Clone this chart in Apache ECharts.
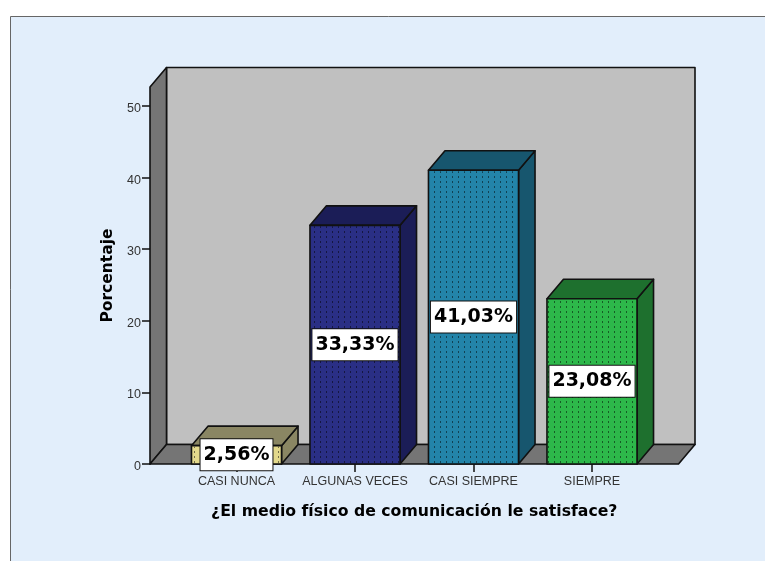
<!DOCTYPE html>
<html>
<head>
<meta charset="utf-8">
<style>html,body{margin:0;padding:0;background:#fff}#c{width:765px;height:561px}</style>
<script src="https://cdn.jsdelivr.net/npm/echarts@6/dist/echarts.min.js"></script>
</head>
<body>
<div id="c"></div>
<script>
const categories = ['CASI NUNCA', 'ALGUNAS VECES', 'CASI SIEMPRE', 'SIEMPRE'];
const values = [2.56, 33.33, 41.03, 23.08];
const valueLabels = ['2,56%', '33,33%', '41,03%', '23,08%'];
const yTicks = [0, 10, 20, 30, 40, 50];
const yMax = 52.65;
const frontColors = ['#E3D98C', '#2A2F85', '#2384A9', '#2DB84A'];
const sideColors = ['#8A8663', '#1B1D57', '#17566E', '#1E702E'];
const xAxisTitle = '¿El medio físico de comunicación le satisface?';
const yAxisTitle = 'Porcentaje';

const depthX = 16.5, depthY = -19.5, barShare = 0.76, wallPad = 27.25;
const edge = { stroke: '#111', lineWidth: 1.6, lineJoin: 'round' };

function dotted() {
  const cv = document.createElement('canvas');
  cv.width = 6; cv.height = 5;
  const g = cv.getContext('2d');
  g.fillStyle = 'rgba(0,0,0,0.5)';
  g.fillRect(2, 1, 1, 2);
  return cv;
}
const dots = dotted();

function poly(points, fill) {
  return { type: 'polygon', shape: { points }, style: Object.assign({ fill }, edge) };
}

function renderWalls(params, api) {
  const cs = params.coordSys;
  const y0 = api.coord([0, 0])[1];
  const yT = api.coord([0, yMax])[1];
  const l = cs.x - wallPad, r = cs.x + cs.width + wallPad;
  return {
    type: 'group',
    children: [
      poly([[l + depthX, yT + depthY], [r + depthX, yT + depthY], [r + depthX, y0 + depthY], [l + depthX, y0 + depthY]], '#C0C0C0'),
      poly([[l, yT], [l + depthX, yT + depthY], [l + depthX, y0 + depthY], [l, y0]], '#757575'),
      poly([[l, y0], [l + depthX, y0 + depthY], [r + depthX, y0 + depthY], [r, y0]], '#757575')
    ]
  };
}

function renderBar(params, api) {
  const i = api.value(0), v = api.value(1);
  const base = api.coord([i, 0]), top = api.coord([i, v]);
  const w = api.size([1, 0])[0] * barShare;
  const l = base[0] - w / 2, r = base[0] + w / 2, y0 = base[1], y1 = top[1];
  const dx = depthX, dy = depthY;
  return {
    type: 'group',
    children: [
      poly([[r, y0], [r + dx, y0 + dy], [r + dx, y1 + dy], [r, y1]], sideColors[i]),
      poly([[l, y1], [l + dx, y1 + dy], [r + dx, y1 + dy], [r, y1]], sideColors[i]),
      { type: 'rect', shape: { x: l, y: y1, width: w, height: y0 - y1 }, style: Object.assign({ fill: frontColors[i] }, edge) },
      { type: 'rect', shape: { x: l + 1, y: y1 + 1, width: w - 2, height: y0 - y1 - 2 }, style: { fill: { image: dots, repeat: 'repeat' } } },
      {
        type: 'text',
        z2: 50,
        style: {
          x: base[0], y: (y0 + y1) / 2,
          text: valueLabels[i],
          align: 'center', verticalAlign: 'middle',
          font: 'bold 19px "DejaVu Sans"',
          fill: '#000',
          backgroundColor: '#fff',
          borderColor: '#111', borderWidth: 1,
          padding: [7, 3, 5, 3]
        }
      }
    ]
  };
}

const chart = echarts.init(document.getElementById('c'), null, { renderer: 'canvas' });
chart.setOption({
  animation: false,
  backgroundColor: '#fff',
  graphic: [{
    type: 'rect', z: -10, silent: true,
    shape: { x: 10.5, y: 16.5, width: 800, height: 600 },
    style: { fill: '#E2EEFB', stroke: '#666', lineWidth: 1 }
  }],
  grid: { left: 177.25, right: 113.75, top: 87, bottom: 97 },
  xAxis: {
    type: 'category',
    data: categories,
    name: xAxisTitle,
    nameLocation: 'middle',
    nameGap: 40,
    nameTextStyle: { fontFamily: 'DejaVu Sans', fontWeight: 'bold', fontSize: 15.7, color: '#000' },
    axisLine: { show: false },
    axisTick: { show: true, alignWithLabel: true, length: 8, lineStyle: { color: '#111', width: 1.5 } },
    axisLabel: { interval: 0, margin: 11, fontFamily: 'Liberation Sans', fontSize: 12.5, color: '#333' },
    z: 0
  },
  yAxis: {
    type: 'value',
    min: 0,
    max: yMax,
    interval: 10,
    offset: wallPad,
    name: yAxisTitle,
    nameLocation: 'middle',
    nameGap: 33,
    nameTextStyle: { fontFamily: 'DejaVu Sans', fontWeight: 'bold', fontSize: 15.5, color: '#000' },
    axisLine: { show: true, lineStyle: { color: '#111', width: 1 } },
    axisTick: { show: true, length: 8, customValues: yTicks, lineStyle: { color: '#111', width: 1.5 } },
    axisLabel: {
      customValues: yTicks, margin: 9,
      formatter: '{t|{value}}',
      rich: { t: { padding: [5, 0, 0, 0], fontFamily: 'Liberation Sans', fontSize: 12.5, color: '#333' } }
    },
    splitLine: { show: false },
    z: 0
  },
  series: [
    { type: 'custom', z: 1, silent: true, renderItem: renderWalls, data: [[0, 0]], encode: { x: 0, y: 1 } },
    { type: 'custom', z: 3, silent: true, renderItem: renderBar, data: values.map((v, i) => [i, v]), encode: { x: 0, y: 1 } }
  ]
});
</script>
</body>
</html>
